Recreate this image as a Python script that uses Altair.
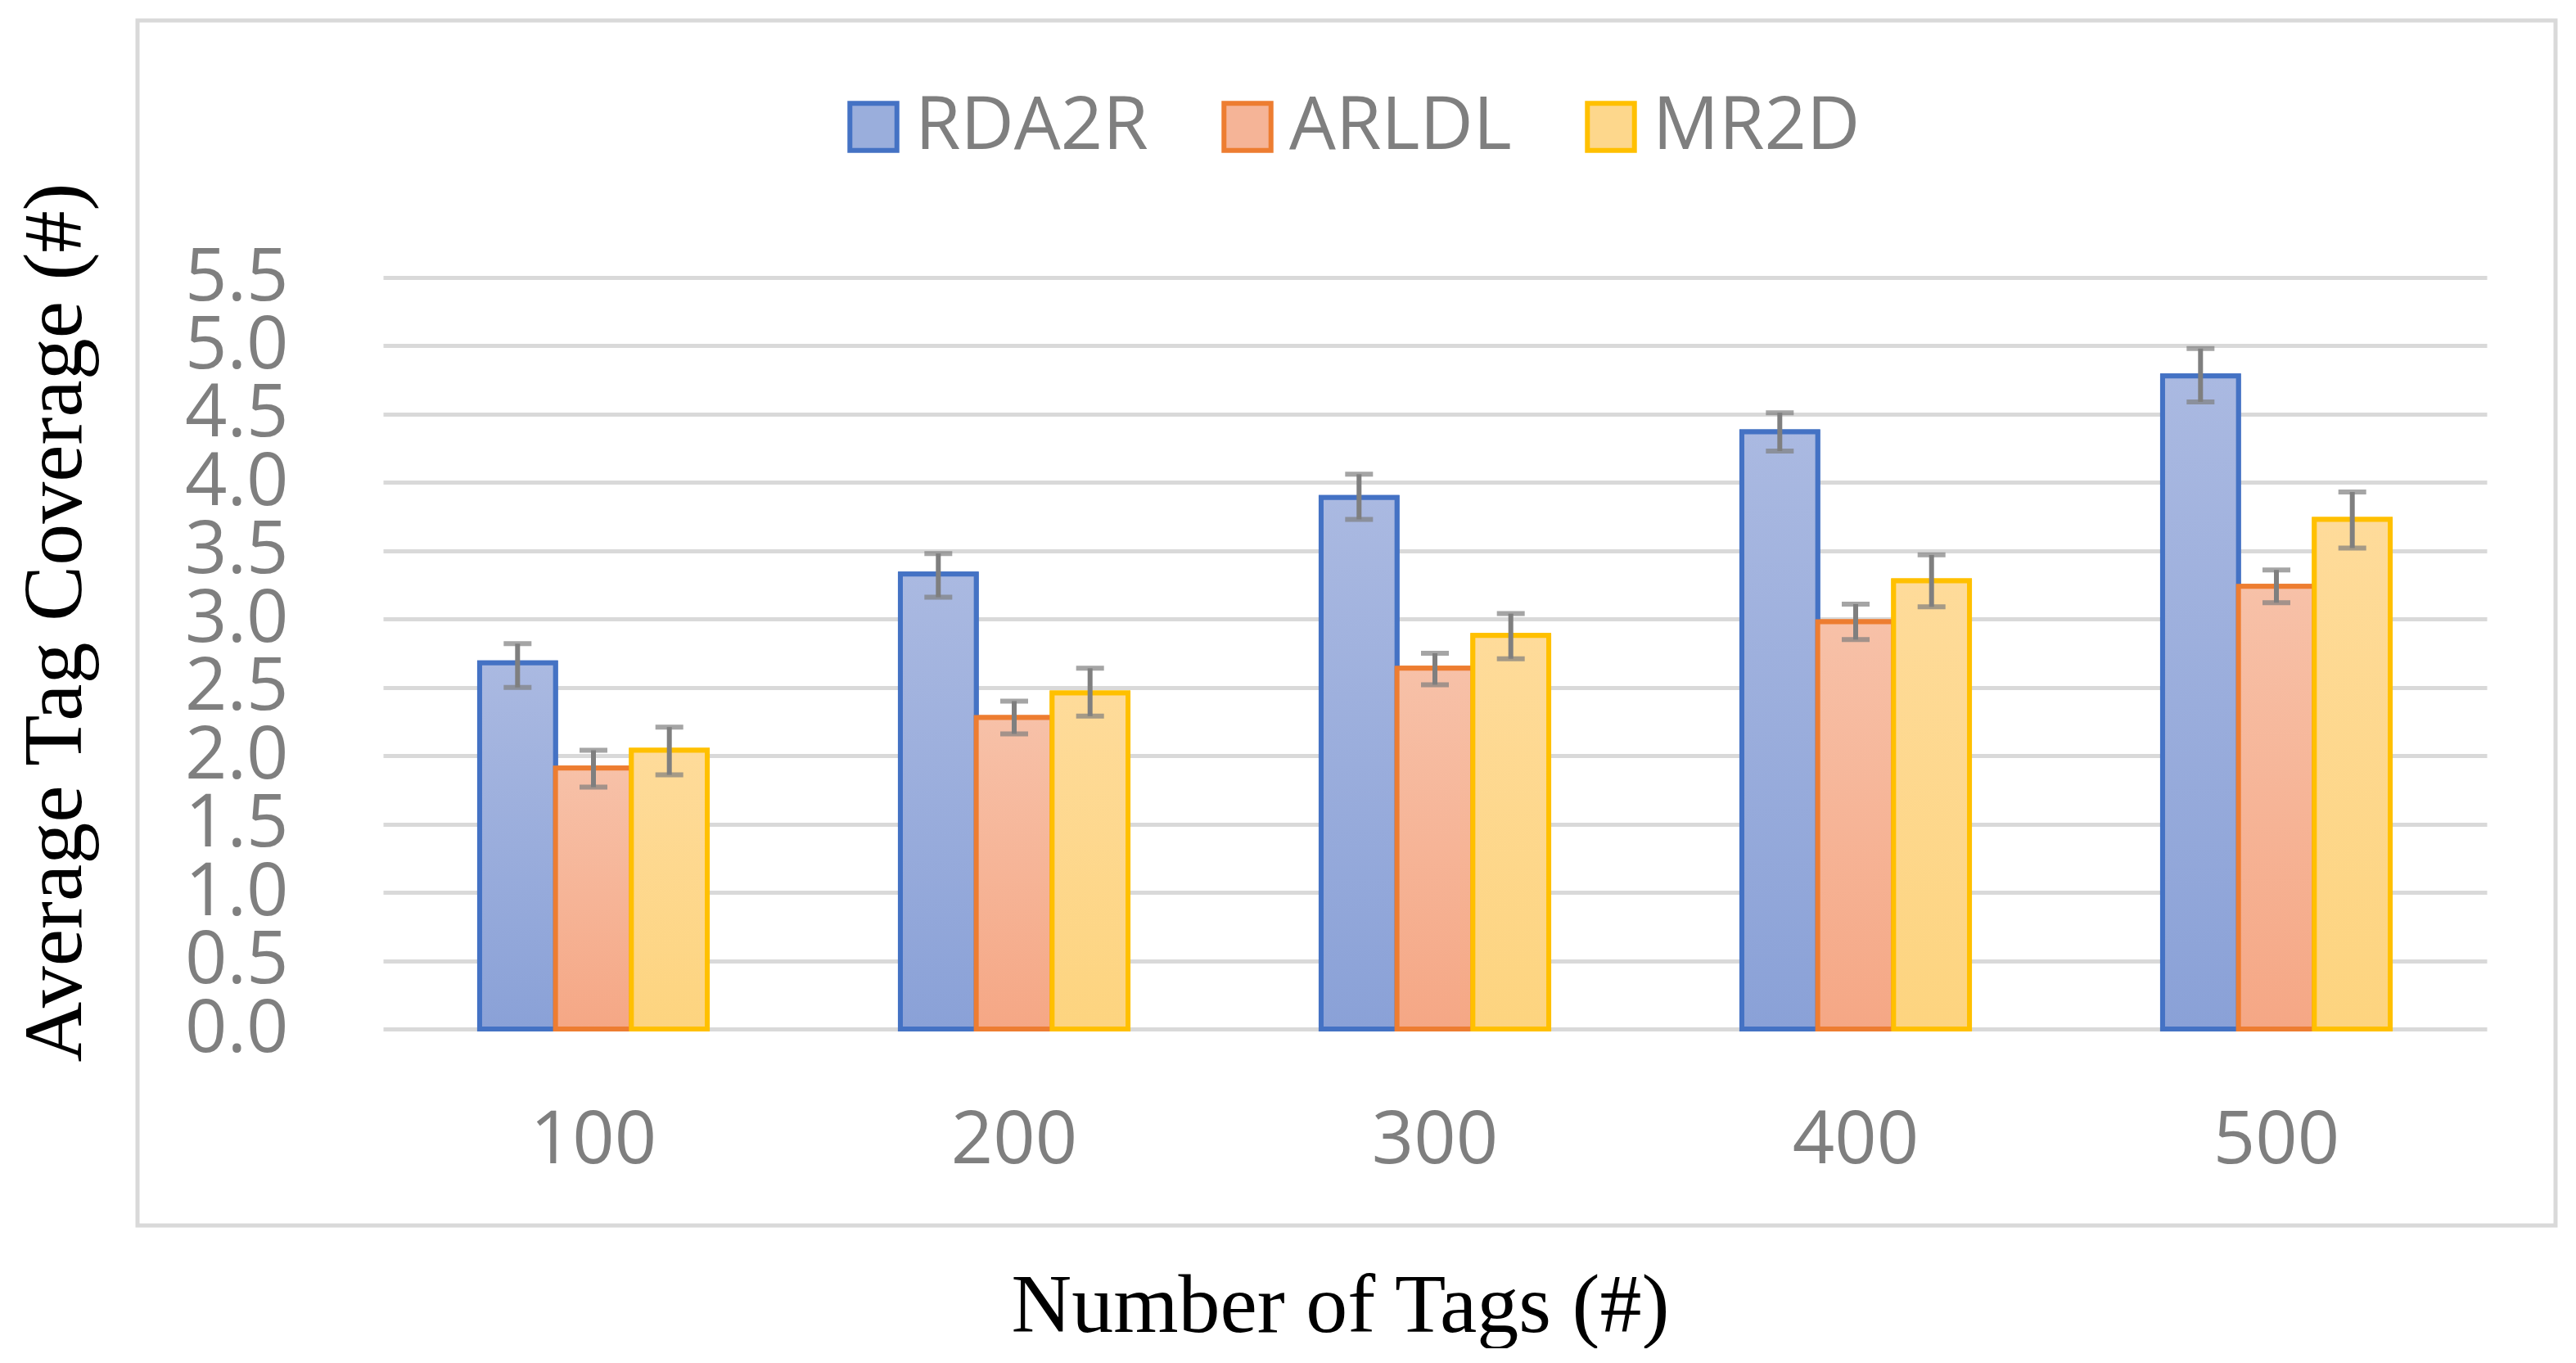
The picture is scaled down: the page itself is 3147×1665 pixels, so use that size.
import altair as alt
import pandas as pd

tags = ["100", "200", "300", "400", "500"]
series = ["RDA2R", "ARLDL", "MR2D"]
rda2r = [2.68, 3.33, 3.89, 4.37, 4.78]
rda2r_lo = [2.50, 3.16, 3.73, 4.23, 4.59]
rda2r_hi = [2.82, 3.48, 4.06, 4.51, 4.98]
arldl = [1.91, 2.28, 2.64, 2.98, 3.24]
arldl_lo = [1.77, 2.16, 2.52, 2.85, 3.12]
arldl_hi = [2.04, 2.40, 2.75, 3.11, 3.36]
mr2d = [2.04, 2.46, 2.88, 3.28, 3.73]
mr2d_lo = [1.86, 2.29, 2.71, 3.09, 3.52]
mr2d_hi = [2.21, 2.64, 3.04, 3.47, 3.93]

stroke_colors = ["#4472C4", "#ED7D31", "#FFC000"]
flat_colors = ["#9AAEDC", "#F5B497", "#FDD78C"]
grad_top = ["#AAB9E1", "#F7C1A8", "#FEDB9A"]
grad_bot = ["#8AA1D7", "#F5A785", "#FDD47F"]

rows = []
for name, vals, lo, hi in [("RDA2R", rda2r, rda2r_lo, rda2r_hi),
                           ("ARLDL", arldl, arldl_lo, arldl_hi),
                           ("MR2D", mr2d, mr2d_lo, mr2d_hi)]:
    for t, v, l, h in zip(tags, vals, lo, hi):
        rows.append({"tags": t, "series": name, "value": v, "lo": l, "hi": h})
df = pd.DataFrame(rows)


def grad(top, bot):
    return {"gradient": "linear", "x1": 0, "y1": 0, "x2": 0, "y2": 1,
            "stops": [{"offset": 0, "color": top}, {"offset": 1, "color": bot}]}


W = 2570
x_enc = alt.X("tags:N", sort=tags,
              scale=alt.Scale(paddingInner=0.459, paddingOuter=0.2295),
              axis=alt.Axis(title="Number of Tags (#)", labelAngle=0,
                            domain=False, ticks=False, grid=False,
                            labelFont="Open Sans", labelFontSize=90,
                            labelColor="#7F7F7F", labelBaseline="alphabetic",
                            labelPadding=163,
                            titleFont="Liberation Serif", titleFontSize=102,
                            titleFontWeight="normal", titleColor="#000000",
                            titleBaseline="alphabetic", titleAlign="center",
                            titleX=1169, titleY=369))
xoff = alt.XOffset("series:N", sort=series,
                   scale=alt.Scale(domain=series, paddingInner=0, paddingOuter=0))
y_enc = alt.Y("value:Q",
              scale=alt.Scale(domain=[0, 5.5], nice=False, zero=True),
              axis=alt.Axis(title="Average Tag Coverage (#)",
                            values=[i * 0.5 for i in range(12)], format=".1f",
                            labelOverlap=False,
                            grid=True, gridColor="#D9D9D9", gridWidth=5,
                            domain=False, ticks=False,
                            labelFont="Open Sans", labelFontSize=90,
                            labelColor="#7F7F7F", labelPadding=116,
                            titleFont="Liberation Serif", titleFontSize=102,
                            titleFontWeight="normal", titleColor="#000000",
                            titleAngle=270, titleBaseline="alphabetic",
                            titleAlign="center", titleX=-370, titleY=421))

legend = alt.Legend(title=None, orient="none", legendX=554, legendY=-229,
                    direction="horizontal", symbolType="square",
                    symbolSize=3300, symbolStrokeWidth=6,
                    labelFont="Open Sans", labelFontSize=90,
                    labelColor="#7F7F7F", labelOffset=6, columnPadding=76,
                    padding=0, labelLimit=1000)

fill_scale = alt.Scale(domain=series, range=flat_colors)
stroke_scale = alt.Scale(domain=series, range=stroke_colors)

base = alt.Chart(df)

bars_legend = base.mark_bar(strokeWidth=6).encode(
    x=x_enc, xOffset=xoff, y=y_enc,
    fill=alt.Fill("series:N", sort=series, scale=fill_scale, legend=legend),
    stroke=alt.Stroke("series:N", sort=series, scale=stroke_scale, legend=legend),
)

grad_fill = (alt.when(alt.datum.series == "RDA2R").then(alt.value(grad(grad_top[0], grad_bot[0])))
             .when(alt.datum.series == "ARLDL").then(alt.value(grad(grad_top[1], grad_bot[1])))
             .otherwise(alt.value(grad(grad_top[2], grad_bot[2]))))

bars_grad = base.mark_bar(strokeWidth=6).encode(
    x=alt.X("tags:N", sort=tags), xOffset=xoff, y=alt.Y("value:Q"),
    fill=grad_fill,
    stroke=alt.Stroke("series:N", sort=series, scale=stroke_scale, legend=legend),
)

err_rule = base.mark_rule(color="#7F7F7F", strokeWidth=6).encode(
    x=alt.X("tags:N", sort=tags), xOffset=xoff,
    y=alt.Y("lo:Q"), y2="hi:Q")
cap_lo = base.mark_tick(color="#7F7F7F", thickness=6, size=34).encode(
    x=alt.X("tags:N", sort=tags), xOffset=xoff, y=alt.Y("lo:Q"))
cap_hi = base.mark_tick(color="#7F7F7F", thickness=6, size=34).encode(
    x=alt.X("tags:N", sort=tags), xOffset=xoff, y=alt.Y("hi:Q"))

frame = alt.Chart(pd.DataFrame({"k": [0]})).mark_rect(
    fill="transparent", stroke="#D9D9D9", strokeWidth=5).encode(
    x=alt.value(-300), x2=alt.value(2654), y=alt.value(-314), y2=alt.value(1158))

chart = alt.layer(frame, bars_legend, bars_grad, err_rule, cap_lo, cap_hi).properties(
    width=W, height=918,
    padding={"left": 460, "top": 331, "right": 101, "bottom": 390},
    autosize=alt.AutoSizeParams(type="none"),
    background="white",
).configure_view(stroke=None)

chart.save("out.html", embed_options={"renderer": "svg", "actions": False})
